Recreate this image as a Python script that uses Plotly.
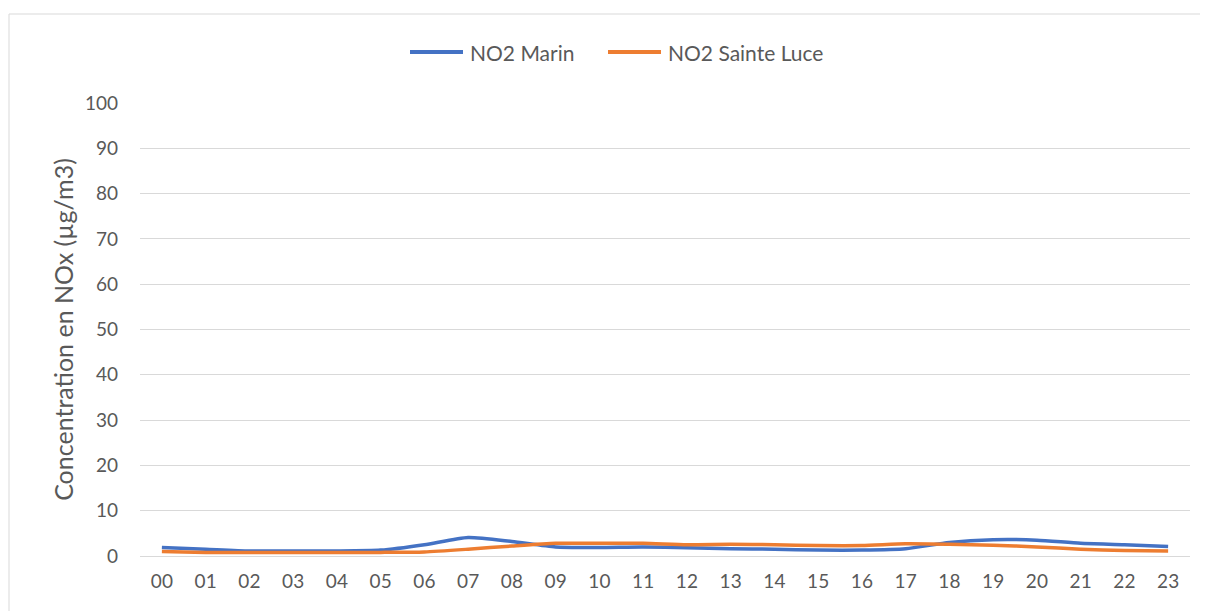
import plotly.graph_objects as go

hours = [f"{h:02d}" for h in range(24)]
no2_marin = [1.9, 1.5, 1.1, 1.1, 1.1, 1.3, 2.5, 4.1, 3.2, 2.0, 1.9, 2.0,
             1.8, 1.6, 1.5, 1.3, 1.3, 1.6, 3.0, 3.6, 3.5, 2.8, 2.5, 2.1]
no2_sainte_luce = [1.0, 0.8, 0.8, 0.8, 0.8, 0.8, 0.9, 1.5, 2.2, 2.8, 2.8, 2.8,
                   2.5, 2.6, 2.5, 2.3, 2.3, 2.7, 2.6, 2.4, 2.0, 1.5, 1.2, 1.1]
y_ticks = list(range(0, 101, 10))
series_names = ["NO2 Marin", "NO2 Sainte Luce"]
series_colors = ["#4472C4", "#ED7D31"]

font_family = "Lato, Open Sans, sans-serif"
grey = "#595959"

# page has an 8px body margin; figure drawn at 1200x603
W, H = 1200, 603
L, R, T, B = 132, 18, 95, 55
pw, ph = W - L - R, H - T - B
OFF = 8


def px(x_page):
    return (x_page - OFF - L) / pw


def py(y_page):
    return (H - B - (y_page - OFF)) / ph


fig = go.Figure()
for name, vals, col in zip(series_names, [no2_marin, no2_sainte_luce], series_colors):
    fig.add_trace(go.Scatter(x=hours, y=vals, name=name, mode="lines", showlegend=False,
                             line=dict(color=col, width=3.5, shape="spline", smoothing=0.6)))

# custom legend (longer line samples, like the original)
legend_y = 52
legend_items = [(410, 463, 468), (608, 661, 666)]
shapes = [dict(type="rect", xref="paper", yref="paper",
               x0=-(L - 1) / pw, x1=1 + (R - 3) / pw,
               y0=-(B + 5) / ph, y1=py(14),
               line=dict(color="#D9D9D9", width=1), fillcolor="rgba(0,0,0,0)", layer="below")]
annotations = []
for (x0, x1, xt), name, col in zip(legend_items, series_names, series_colors):
    shapes.append(dict(type="line", xref="paper", yref="paper",
                       x0=px(x0), x1=px(x1), y0=py(legend_y), y1=py(legend_y),
                       line=dict(color=col, width=4)))
    annotations.append(dict(text=name, xref="paper", yref="paper", x=px(xt), y=py(legend_y),
                            xanchor="left", yanchor="middle", showarrow=False,
                            font=dict(size=21, color=grey, family=font_family)))

fig.update_layout(
    width=W, height=H,
    margin=dict(l=L, r=R, t=T, b=B, autoexpand=False),
    paper_bgcolor="white", plot_bgcolor="white",
    font=dict(family=font_family, color=grey, size=19),
    showlegend=False,
    xaxis=dict(type="category", range=[-0.5, 23.5], showgrid=False,
               showline=False, ticks="", ticklabelstandoff=12,
               tickfont=dict(size=19, color=grey)),
    yaxis=dict(range=[0, 100], tickvals=y_ticks, showgrid=True, gridcolor="#D9D9D9",
               gridwidth=1, zeroline=True, zerolinecolor="#D9D9D9", zerolinewidth=1,
               ticks="", ticklabelstandoff=21, tickfont=dict(size=19, color=grey),
               title=dict(text="Concentration en NOx (µg/m3)", font=dict(size=25, color=grey),
                          standoff=4)),
    shapes=shapes,
    annotations=annotations,
)

fig.write_html("out.html")
